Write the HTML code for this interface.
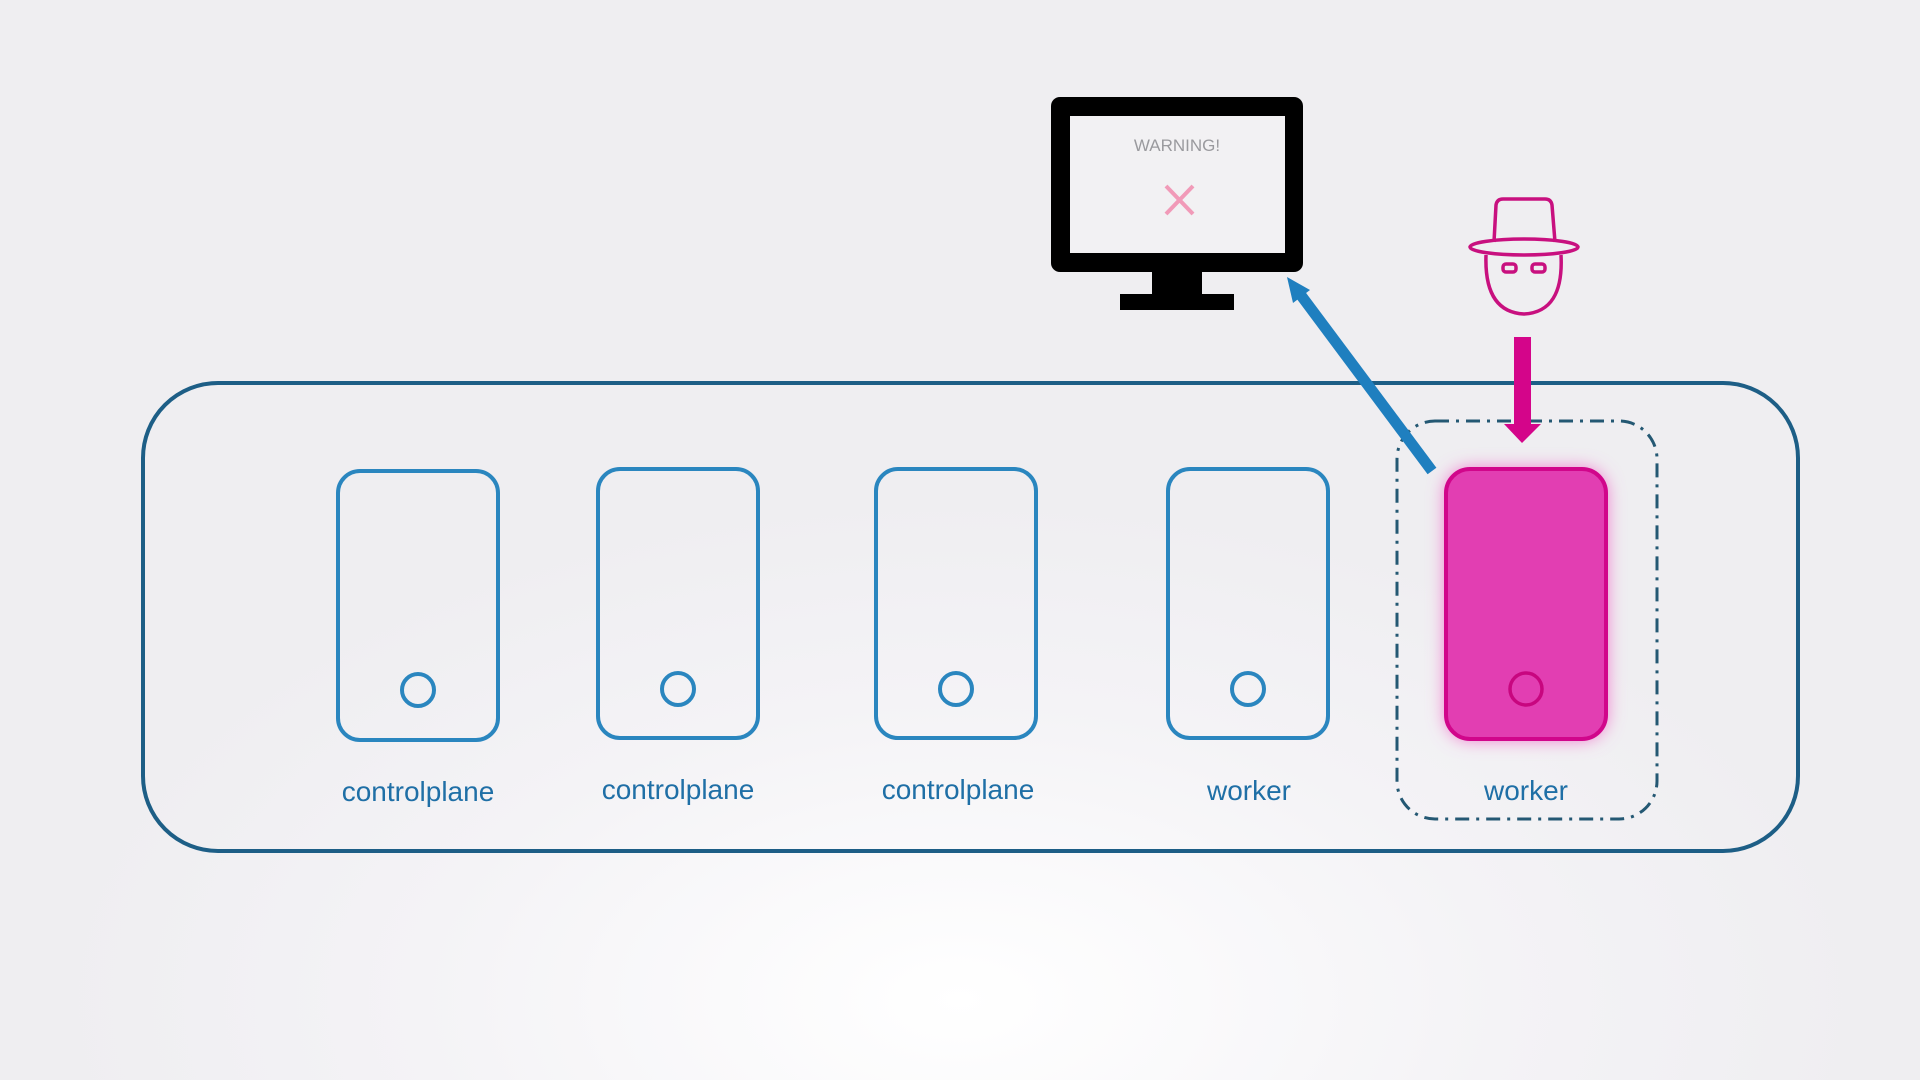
<!DOCTYPE html>
<html><head><meta charset="utf-8"><style>
html,body{margin:0;padding:0;width:1920px;height:1080px;overflow:hidden;}
body{background:radial-gradient(ellipse 900px 500px at 960px 1000px,#ffffff 0%,#f4f3f6 60%,#efeef1 100%);font-family:"Liberation Sans",sans-serif;}
</style></head><body>
<svg width="1920" height="1080" viewBox="0 0 1920 1080" xmlns="http://www.w3.org/2000/svg" style="position:absolute;left:0;top:0">
<defs>
<filter id="glow" x="-30%" y="-20%" width="160%" height="140%"><feGaussianBlur stdDeviation="9"/></filter>
</defs>
<rect x="143" y="383" width="1655" height="468" rx="75" fill="none" stroke="#1d5e86" stroke-width="4"/>
<g fill="none" stroke="#2a86bf" stroke-width="4">
<rect x="338" y="471" width="160" height="269" rx="22"/>
<rect x="598" y="469" width="160" height="269" rx="22"/>
<rect x="876" y="469" width="160" height="269" rx="22"/>
<rect x="1168" y="469" width="160" height="269" rx="22"/>
<circle cx="418" cy="690" r="16"/>
<circle cx="678" cy="689" r="16"/>
<circle cx="956" cy="689" r="16"/>
<circle cx="1248" cy="689" r="16"/>
</g>
<rect x="1397" y="421" width="260" height="398" rx="38" fill="none" stroke="#245873" stroke-width="3" stroke-dasharray="14,7,3,7"/>
<rect x="1446" y="469" width="160" height="270" rx="24" fill="#f06ac8" filter="url(#glow)"/>
<rect x="1446" y="469" width="160" height="270" rx="24" fill="#e23eb2" stroke="#d1068b" stroke-width="4"/>
<circle cx="1526" cy="689" r="16" fill="none" stroke="#c8067f" stroke-width="3.5"/>
<g font-size="28" fill="#1f6fa6" text-anchor="middle">
<text x="418" y="801">controlplane</text>
<text x="678" y="799">controlplane</text>
<text x="958" y="799">controlplane</text>
<text x="1249" y="800">worker</text>
<text x="1526" y="800">worker</text>
</g>
<rect x="1051" y="97" width="252" height="175" rx="9" fill="#000"/>
<rect x="1070" y="116" width="215" height="137" fill="#f2f1f3"/>
<rect x="1152" y="270" width="50" height="26" fill="#000"/>
<rect x="1120" y="294" width="114" height="16" fill="#000"/>
<text x="1177" y="151" font-size="17" fill="#9a9a9e" text-anchor="middle">WARNING!</text>
<g stroke="#f19ab8" stroke-width="4"><line x1="1166" y1="186" x2="1193" y2="214"/><line x1="1193" y1="186" x2="1166" y2="214"/></g>
<g fill="none" stroke="#c8107f" stroke-width="3.5">
<path d="M1494 242 L1496 205 Q1497 199 1503 199 L1545 199 Q1551 199 1552 205 L1555 242"/>
<ellipse cx="1524" cy="247" rx="54" ry="8"/>
<path d="M1486 255 Q1484 312 1524 314 Q1564 312 1561 255"/>
<rect x="1503" y="264" width="13" height="8" rx="3"/>
<rect x="1532" y="264" width="13" height="8" rx="3"/>
</g>
<rect x="1514" y="337" width="17" height="88" fill="#d4058a"/>
<polygon points="1504,424 1541,424 1522,443" fill="#d4058a"/>
<line x1="1432" y1="471" x2="1300" y2="294" stroke="#1f7fbf" stroke-width="11"/>
<polygon points="1287,277 1310,290 1293,303" fill="#1f7fbf"/>
</svg>
</body></html>
